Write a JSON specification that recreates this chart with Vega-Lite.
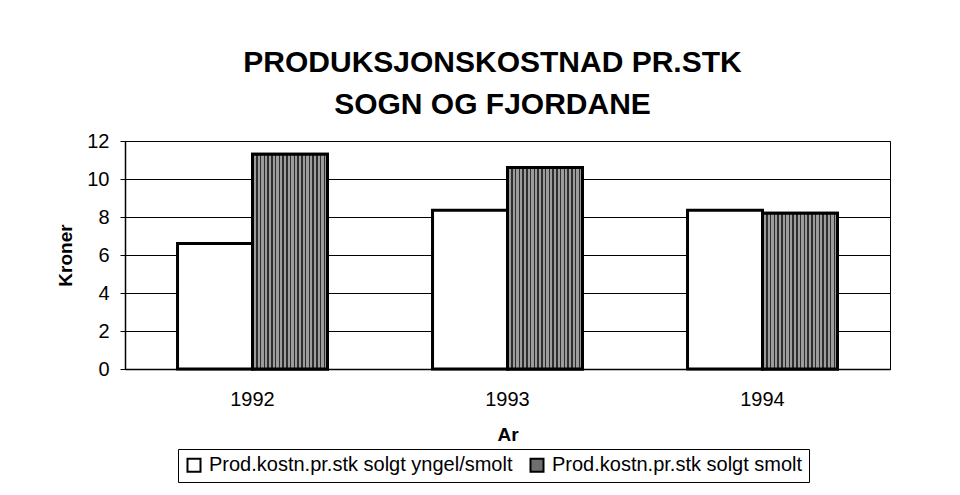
{
  "$schema": "https://vega.github.io/schema/vega-lite/v6.json",
  "width": 765,
  "height": 228,
  "autosize": {"type": "none"},
  "padding": {"left": 125, "top": 141, "right": 70, "bottom": 126},
  "background": "white",
  "config": {
    "font": "Liberation Sans",
    "view": {"stroke": "black", "strokeWidth": 1}
  },
  "title": {
    "text": ["PRODUKSJONSKOSTNAD PR.STK", "SOGN OG FJORDANE"],
    "fontSize": 30,
    "font": "Liberation Sans",
    "fontWeight": "bold",
    "lineHeight": 42,
    "anchor": "middle",
    "dx": -15,
    "offset": 11,
    "color": "black"
  },
  "data": {
    "values": [
      {"year": "1992", "series": "Prod.kostn.pr.stk solgt yngel/smolt", "value": 6.6},
      {"year": "1992", "series": "Prod.kostn.pr.stk solgt smolt", "value": 11.3},
      {"year": "1993", "series": "Prod.kostn.pr.stk solgt yngel/smolt", "value": 8.35},
      {"year": "1993", "series": "Prod.kostn.pr.stk solgt smolt", "value": 10.6},
      {"year": "1994", "series": "Prod.kostn.pr.stk solgt yngel/smolt", "value": 8.35},
      {"year": "1994", "series": "Prod.kostn.pr.stk solgt smolt", "value": 8.2}
    ]
  },
  "encoding": {
    "x": {
      "field": "year",
      "type": "nominal",
      "scale": {"paddingInner": 0.412, "paddingOuter": 0.206},
      "title": "Ar",
      "axis": {
        "labelAngle": 0,
        "labelFontSize": 20,
        "labelColor": "black",
        "labelPadding": 20,
        "ticks": false,
        "domainColor": "black",
        "domainWidth": 1.5,
        "titleFontSize": 19,
        "titleFontWeight": "bold",
        "titleColor": "black",
        "titlePadding": 16
      }
    },
    "xOffset": {
      "field": "series",
      "type": "nominal",
      "scale": {"domain": ["Prod.kostn.pr.stk solgt yngel/smolt", "Prod.kostn.pr.stk solgt smolt"]}
    },
    "y": {
      "field": "value",
      "type": "quantitative",
      "scale": {"domain": [0, 12], "nice": false},
      "title": "Kroner",
      "axis": {
        "values": [0, 2, 4, 6, 8, 10, 12],
        "grid": true,
        "gridColor": "black",
        "gridOpacity": 1,
        "gridWidth": 1,
        "tickColor": "black",
        "tickSize": 5,
        "domainColor": "black",
        "domainWidth": 1.5,
        "labelFontSize": 20,
        "labelColor": "black",
        "labelPadding": 11,
        "titleFontSize": 19,
        "titleFontWeight": "bold",
        "titleColor": "black",
        "titlePadding": 11
      }
    }
  },
  "layer": [
    {
      "mark": {"type": "bar", "stroke": "black", "strokeWidth": 3},
      "encoding": {
        "color": {
          "field": "series",
          "type": "nominal",
          "scale": {
            "domain": ["Prod.kostn.pr.stk solgt yngel/smolt", "Prod.kostn.pr.stk solgt smolt"],
            "range": ["white", "#6e6e6e"]
          },
          "legend": {
            "orient": "none",
            "legendX": 53,
            "legendY": 308,
            "direction": "horizontal",
            "title": null,
            "strokeColor": "black",
            "padding": 6,
            "symbolType": "square",
            "symbolSize": 169,
            "symbolStrokeColor": "black",
            "symbolStrokeWidth": 2,
            "symbolOpacity": 1,
            "labelFontSize": 20,
            "labelColor": "black",
            "labelLimit": 400,
            "labelOffset": 5,
            "columnPadding": 13
          }
        }
      }
    },
    {
      "transform": [{"filter": "datum.series === 'Prod.kostn.pr.stk solgt smolt'"}],
      "mark": {
        "type": "bar",
        "stroke": "black",
        "strokeWidth": 3,
        "fill": {
          "gradient": "linear",
          "x1": 0, "x2": 1, "y1": 0, "y2": 0,
          "stops": [
            {"offset": 0.00, "color": "#2e2e2e"}, {"offset": 0.02, "color": "#2e2e2e"}, {"offset": 0.02, "color": "#9c9c9c"}, {"offset": 0.05, "color": "#9c9c9c"},
            {"offset": 0.05, "color": "#2e2e2e"}, {"offset": 0.07, "color": "#2e2e2e"}, {"offset": 0.07, "color": "#9c9c9c"}, {"offset": 0.10, "color": "#9c9c9c"},
            {"offset": 0.10, "color": "#2e2e2e"}, {"offset": 0.12, "color": "#2e2e2e"}, {"offset": 0.12, "color": "#9c9c9c"}, {"offset": 0.15, "color": "#9c9c9c"},
            {"offset": 0.15, "color": "#2e2e2e"}, {"offset": 0.17, "color": "#2e2e2e"}, {"offset": 0.17, "color": "#9c9c9c"}, {"offset": 0.20, "color": "#9c9c9c"},
            {"offset": 0.20, "color": "#2e2e2e"}, {"offset": 0.22, "color": "#2e2e2e"}, {"offset": 0.22, "color": "#9c9c9c"}, {"offset": 0.25, "color": "#9c9c9c"},
            {"offset": 0.25, "color": "#2e2e2e"}, {"offset": 0.27, "color": "#2e2e2e"}, {"offset": 0.27, "color": "#9c9c9c"}, {"offset": 0.30, "color": "#9c9c9c"},
            {"offset": 0.30, "color": "#2e2e2e"}, {"offset": 0.32, "color": "#2e2e2e"}, {"offset": 0.32, "color": "#9c9c9c"}, {"offset": 0.35, "color": "#9c9c9c"},
            {"offset": 0.35, "color": "#2e2e2e"}, {"offset": 0.37, "color": "#2e2e2e"}, {"offset": 0.37, "color": "#9c9c9c"}, {"offset": 0.40, "color": "#9c9c9c"},
            {"offset": 0.40, "color": "#2e2e2e"}, {"offset": 0.42, "color": "#2e2e2e"}, {"offset": 0.42, "color": "#9c9c9c"}, {"offset": 0.45, "color": "#9c9c9c"},
            {"offset": 0.45, "color": "#2e2e2e"}, {"offset": 0.47, "color": "#2e2e2e"}, {"offset": 0.47, "color": "#9c9c9c"}, {"offset": 0.50, "color": "#9c9c9c"},
            {"offset": 0.50, "color": "#2e2e2e"}, {"offset": 0.52, "color": "#2e2e2e"}, {"offset": 0.52, "color": "#9c9c9c"}, {"offset": 0.55, "color": "#9c9c9c"},
            {"offset": 0.55, "color": "#2e2e2e"}, {"offset": 0.57, "color": "#2e2e2e"}, {"offset": 0.57, "color": "#9c9c9c"}, {"offset": 0.60, "color": "#9c9c9c"},
            {"offset": 0.60, "color": "#2e2e2e"}, {"offset": 0.62, "color": "#2e2e2e"}, {"offset": 0.62, "color": "#9c9c9c"}, {"offset": 0.65, "color": "#9c9c9c"},
            {"offset": 0.65, "color": "#2e2e2e"}, {"offset": 0.67, "color": "#2e2e2e"}, {"offset": 0.67, "color": "#9c9c9c"}, {"offset": 0.70, "color": "#9c9c9c"},
            {"offset": 0.70, "color": "#2e2e2e"}, {"offset": 0.72, "color": "#2e2e2e"}, {"offset": 0.72, "color": "#9c9c9c"}, {"offset": 0.75, "color": "#9c9c9c"},
            {"offset": 0.75, "color": "#2e2e2e"}, {"offset": 0.77, "color": "#2e2e2e"}, {"offset": 0.77, "color": "#9c9c9c"}, {"offset": 0.80, "color": "#9c9c9c"},
            {"offset": 0.80, "color": "#2e2e2e"}, {"offset": 0.82, "color": "#2e2e2e"}, {"offset": 0.82, "color": "#9c9c9c"}, {"offset": 0.85, "color": "#9c9c9c"},
            {"offset": 0.85, "color": "#2e2e2e"}, {"offset": 0.87, "color": "#2e2e2e"}, {"offset": 0.87, "color": "#9c9c9c"}, {"offset": 0.90, "color": "#9c9c9c"},
            {"offset": 0.90, "color": "#2e2e2e"}, {"offset": 0.92, "color": "#2e2e2e"}, {"offset": 0.92, "color": "#9c9c9c"}, {"offset": 0.95, "color": "#9c9c9c"},
            {"offset": 0.95, "color": "#2e2e2e"}, {"offset": 0.97, "color": "#2e2e2e"}, {"offset": 0.97, "color": "#9c9c9c"}, {"offset": 1.00, "color": "#9c9c9c"}
          ]
        }
      },
      "encoding": {}
    }
  ]
}
